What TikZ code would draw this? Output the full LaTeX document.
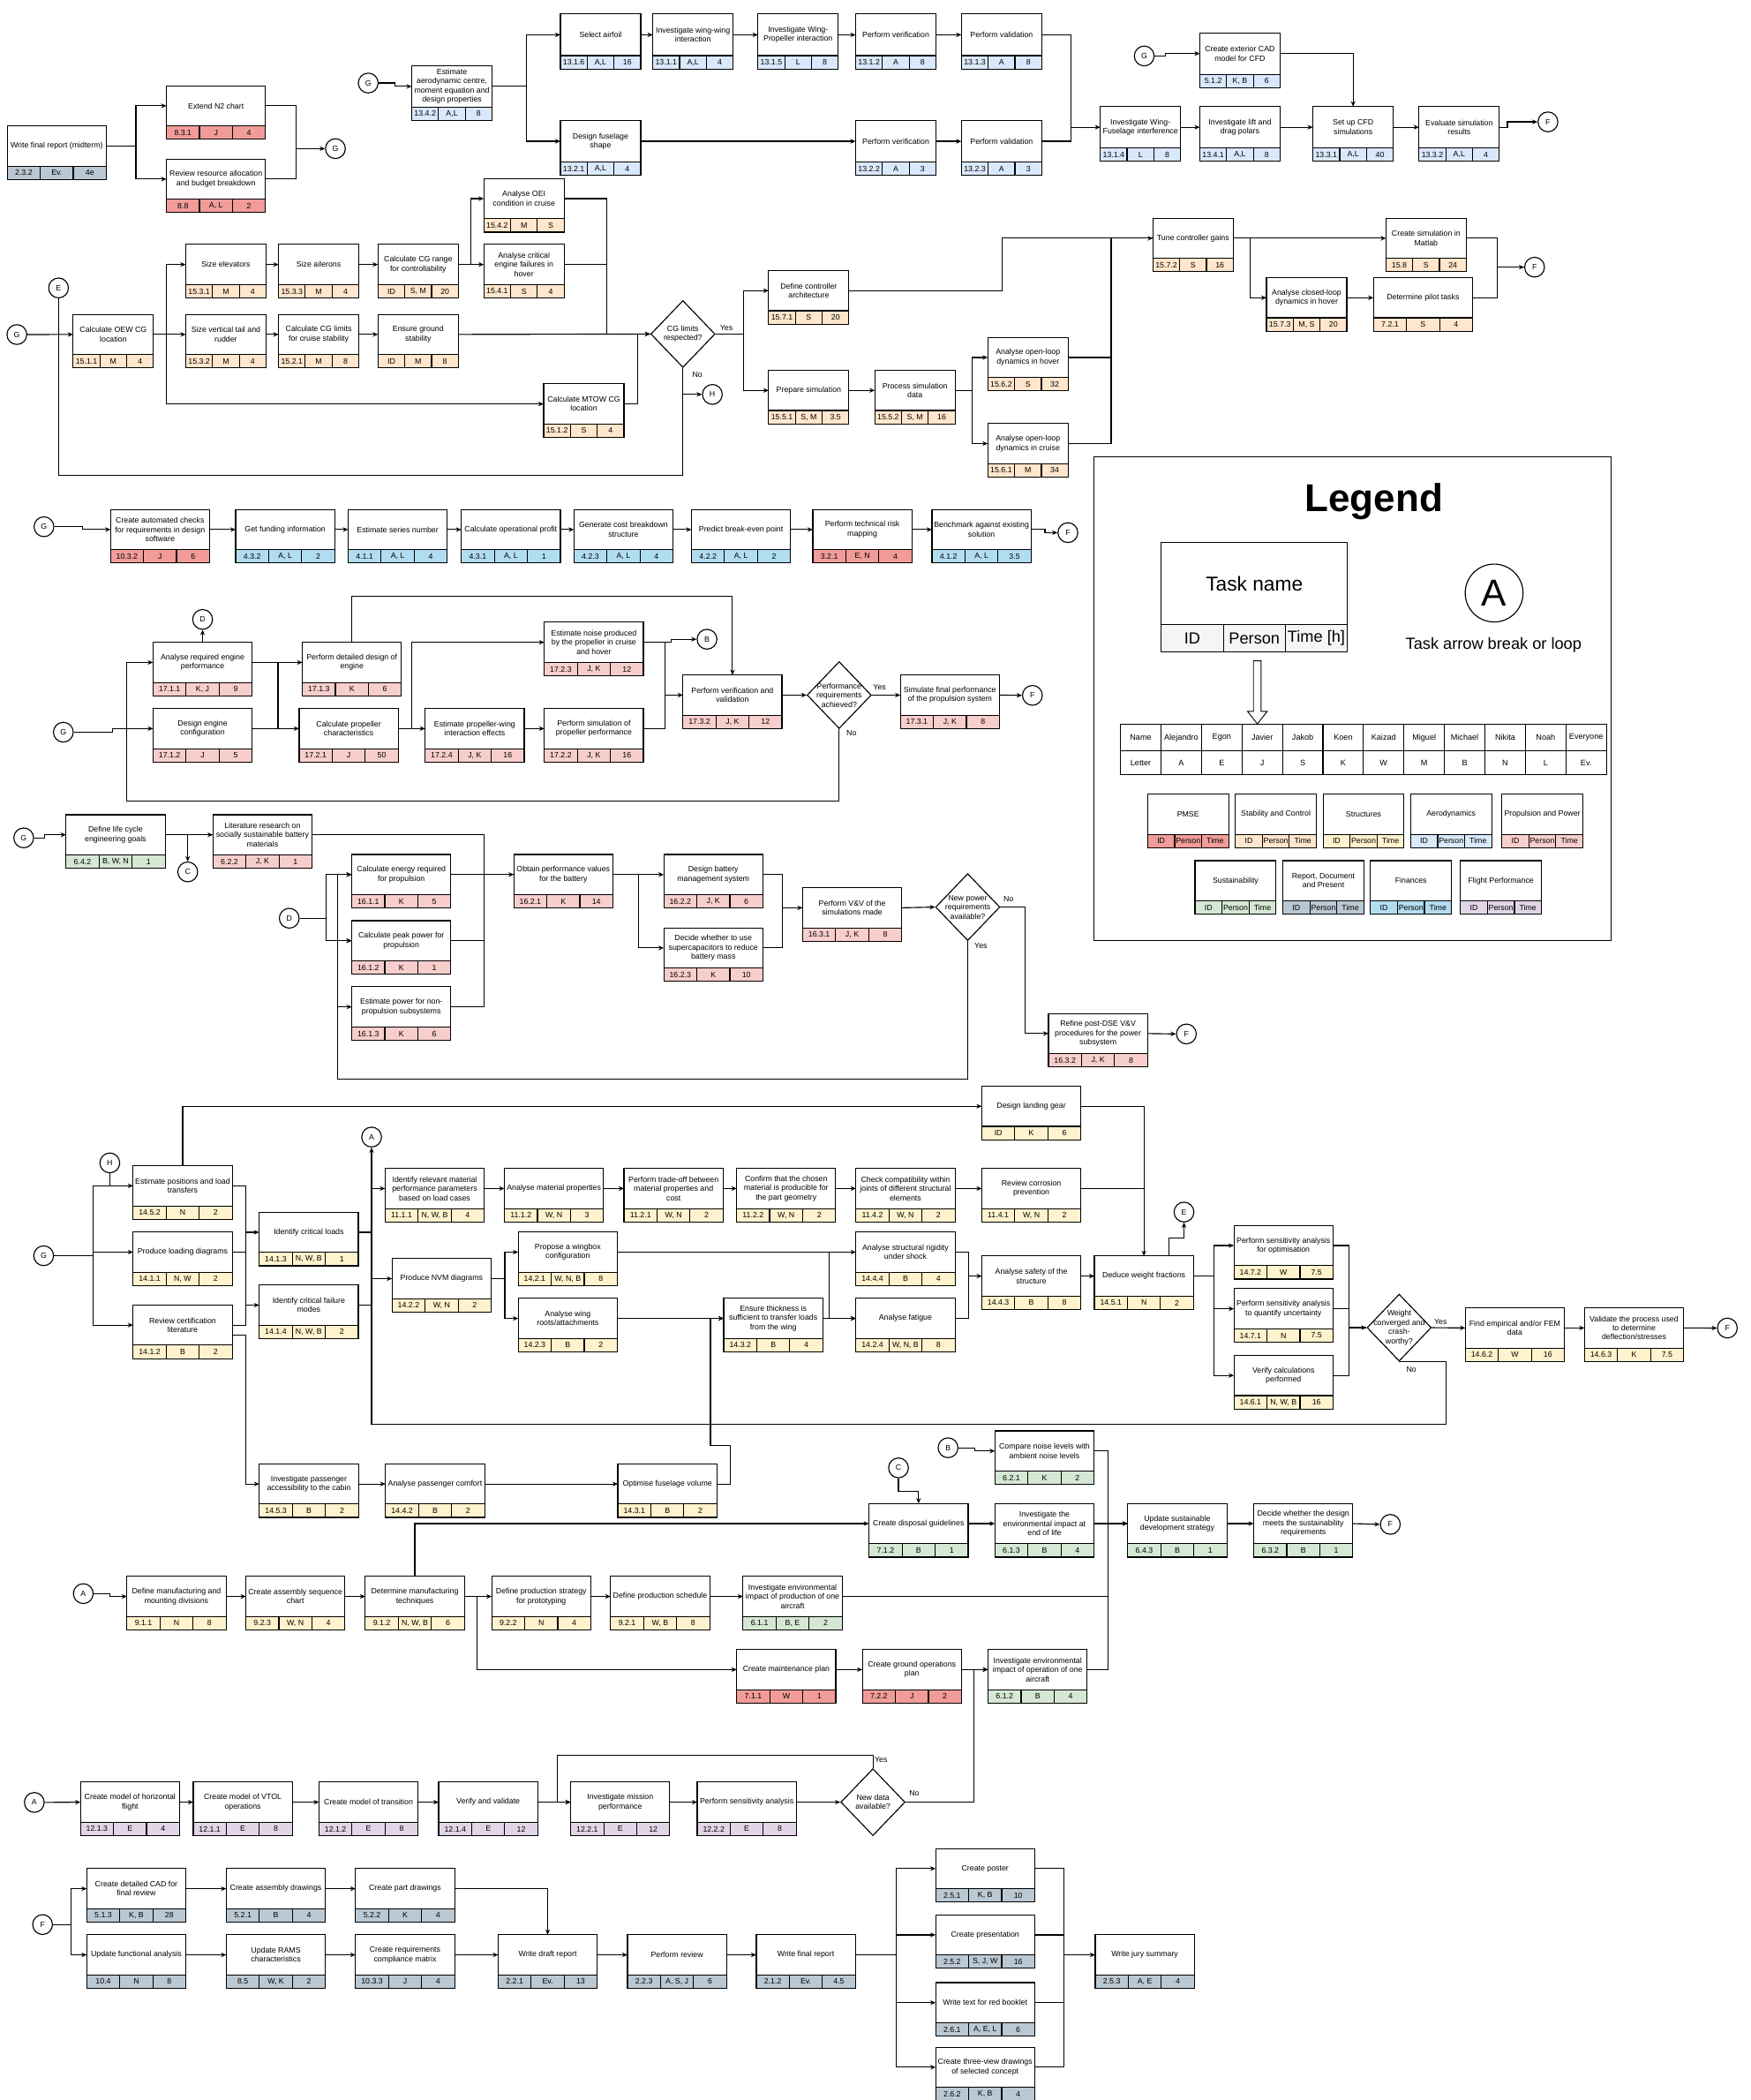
\documentclass[tikz,border=0pt]{standalone}
\usepackage{fontspec}
\setmainfont{Liberation Sans}
\usetikzlibrary{arrows.meta,shapes.geometric,calc}
\definecolor{pmse}{HTML}{F19C99}
\definecolor{sc}{HTML}{FFE6CC}
\definecolor{str}{HTML}{FFF2CC}
\definecolor{aero}{HTML}{DAE8FC}
\definecolor{prop}{HTML}{F8CECC}
\definecolor{sust}{HTML}{D5E8D4}
\definecolor{rep}{HTML}{BAC8D3}
\definecolor{fin}{HTML}{B1DDF0}
\definecolor{flight}{HTML}{E1D5E7}
\definecolor{lgray}{HTML}{F5F5F5}
\newcommand{\taskfont}{\fontsize{5.8}{6.9}\selectfont}
\newcommand{\taskw}{74}
\newcommand{\taskh}{30}
\newcommand{\mktask}[7]{%
	\node[taskbox,minimum width=\taskw pt,minimum height=\taskh pt] (#1) at (#2) {#3};
	\node[cell,fill=#7,minimum width=\taskw pt/3,anchor=north west] (#1-id) at (#1.south west) {#4};
	\node[cell,fill=#7,minimum width=\taskw pt/3,anchor=west] (#1-pe) at (#1-id.east) {#5};
	\node[cell,fill=#7,minimum width=\taskw pt/3,anchor=west] (#1-ti) at (#1-pe.east) {#6};}
\tikzset{
	taskbox/.style={draw,fill=white,rectangle,inner sep=0.5pt,outer sep=0pt,align=center,font=\taskfont},
	cell/.style={draw,rectangle,minimum height=10pt,inner sep=0pt,outer sep=0pt,font=\taskfont},
	conn/.style={draw,circle,fill=white,minimum size=14.8pt,inner sep=0pt,font=\taskfont},
	decision/.style={draw,diamond,fill=white,minimum width=48pt,minimum height=50pt,inner sep=0pt},
	dtext/.style={font=\taskfont,align=center,inner sep=0pt},
	lbl/.style={font=\taskfont,inner sep=0pt},
	arr/.style={-{Stealth[length=4pt,width=3.4pt]}},
	tab/.style={draw,rectangle,minimum width=30.24pt,inner sep=0pt,outer sep=0pt,font=\fontsize{6}{7}\selectfont}
}
\begin{document}
\begin{tikzpicture}[x=1pt,y=1pt,yscale=-1,line width=0.75pt]
	\useasboundingbox (0,0) rectangle (1307,1568);

	\mktask{wfr}{42.4,109}{Write final report (midterm)}{2.3.2}{Ev.}{4e}{rep}
	\mktask{ntwo}{161.3,79}{Extend N2 chart}{8.3.1}{J}{4}{pmse}
	\mktask{rra}{161.3,133.7}{Review resource allocation\\and budget breakdown}{8.8}{A, L}{2}{pmse}
	\node[conn] (g1) at (250.5,111) {G};
	\draw[arr] (wfr.east) -- ++(22.1,0) |- (ntwo.west);
	\draw[arr] (wfr.east) -- ++(22.1,0) |- (rra.west);
	\draw (ntwo.east) -- ++(22.7,0) coordinate (jr1) |- (rra.east);
	\draw[arr] (jr1 |- g1.west) -- (g1.west);

	\def\taskw{60}\def\taskh{31}
	\node[conn] (g2) at (275,62) {G};
	\mktask{eac}{337.5,64.5}{Estimate\\aerodynamic centre,\\moment equation and\\design properties}{13.4.2}{A,L}{8}{aero}
	\mktask{sa}{448.5,26}{Select airfoil}{13.1.6}{A,L}{16}{aero}
	\mktask{ww}{517.5,26}{Investigate wing-wing\\interaction}{13.1.1}{A,L}{4}{aero}
	\mktask{wp}{596,26}{Investigate Wing-\\Propeller interaction}{13.1.5}{L}{8}{aero}
	\mktask{pvo}{669,26}{Perform verification}{13.1.2}{A}{8}{aero}
	\mktask{plo}{748,26}{Perform validation}{13.1.3}{A}{8}{aero}
	\mktask{dfs}{448.5,105.5}{Design fuselage\\shape}{13.2.1}{A,L}{4}{aero}
	\mktask{pvt}{669,105.5}{Perform verification}{13.2.2}{A}{3}{aero}
	\mktask{plt}{748,105.5}{Perform validation}{13.2.3}{A}{3}{aero}
	\mktask{wfi}{851.7,95}{Investigate Wing-\\Fuselage interference}{13.1.4}{L}{8}{aero}
	\mktask{ldp}{926,95}{Investigate lift and\\drag polars}{13.4.1}{A,L}{8}{aero}
	\mktask{cfd}{1010.5,95}{Set up CFD\\simulations}{13.3.1}{A,L}{40}{aero}
	\mktask{esr}{1089.7,95}{Evaluate simulation\\results}{13.3.2}{A,L}{4}{aero}
	\mktask{cad}{926,40}{Create exterior CAD\\model for CFD}{5.1.2}{K, B}{6}{aero}
	\node[conn] (g3) at (854.5,41.8) {G};
	\node[conn] (f1) at (1156,91) {F};
	\draw[arr] (g2.east) -- ++(12,0) |- (eac.west);
	\draw[arr] (eac.east) -- ++(25.5,0) |- (sa.west);
	\draw[arr] (eac.east) -- ++(25.5,0) |- (dfs.west);
	\draw[arr] (sa.east) -- (ww.west);
	\draw[arr] (ww.east) -- (wp.west);
	\draw[arr] (wp.east) -- (pvo.west);
	\draw[arr] (pvo.east) -- (plo.west);
	\draw[arr] (dfs.east) -- (pvt.west);
	\draw[arr] (pvt.east) -- (plt.west);
	\draw (plo.east) -- ++(21.6,0) coordinate (ja1) |- (plt.east);
	\draw[arr] (ja1 |- wfi.west) -- (wfi.west);
	\draw[arr] (wfi.east) -- (ldp.west);
	\draw[arr] (ldp.east) -- (cfd.west);
	\draw[arr] (cfd.east) -- (esr.west);
	\draw[arr] (g3.east) -- ++(8,0) |- (cad.west);
	\draw[arr] (cad.east) -| (cfd.north);
	\draw[arr] (esr.east) -- ++(6,0) |- (f1.west);

	\def\taskh{30}
	\node[conn] (e1) at (43.7,215) {E};
	\node[conn] (g4) at (12.6,249.8) {G};
	\mktask{oew}{84.6,249.7}{Calculate OEW CG\\location}{15.1.1}{M}{4}{sc}
	\mktask{se}{168.7,197.5}{Size elevators}{15.3.1}{M}{4}{sc}
	\mktask{sai}{238,197.5}{Size ailerons}{15.3.3}{M}{4}{sc}
	\mktask{cgr}{312.3,197.5}{Calculate CG range\\for controllability}{ID}{S, M}{20}{sc}
	\mktask{oei}{391.3,148.3}{Analyse OEI\\condition in cruise}{15.4.2}{M}{S}{sc}
	\mktask{cef}{391.3,197.5}{Analyse critical\\engine failures in\\hover}{15.4.1}{S}{4}{sc}
	\mktask{svt}{168.7,249.7}{Size vertical tail and\\rudder}{15.3.2}{M}{4}{sc}
	\mktask{cgl}{238,249.7}{Calculate CG limits\\for cruise stability}{15.2.1}{M}{8}{sc}
	\mktask{gst}{312.3,249.7}{Ensure ground\\stability}{ID}{M}{8}{sc}
	\mktask{mtow}{436,301.6}{Calculate MTOW CG\\location}{15.1.2}{S}{4}{sc}
	\node[decision,label={[dtext]center:CG limits\\respected?}] (q15) at (510,249.4) {};
	\node[lbl] at (542.5,245) {Yes};
	\node[lbl] at (520.8,280) {No};
	\node[conn] (h1) at (532,294.5) {H};
	\mktask{dca}{604,217}{Define controller\\architecture}{15.7.1}{S}{20}{sc}
	\mktask{psim}{604,291.5}{Prepare simulation}{15.5.1}{S, M}{3.5}{sc}
	\mktask{psd}{683.3,291.5}{Process simulation\\data}{15.5.2}{S, M}{16}{sc}
	\mktask{olh}{767.7,266.9}{Analyse open-loop\\dynamics in hover}{15.6.2}{S}{32}{sc}
	\mktask{olc}{767.7,331.2}{Analyse open-loop\\dynamics in cruise}{15.6.1}{M}{34}{sc}
	\mktask{tcg}{891,177.9}{Tune controller gains}{15.7.2}{S}{16}{sc}
	\mktask{csm}{1065,177.9}{Create simulation in\\Matlab}{15.8}{S}{24}{sc}
	\mktask{clh}{975.8,222.3}{Analyse closed-loop\\dynamics in hover}{15.7.3}{M, S}{20}{sc}
	\def\taskw{74}
	\mktask{dpt}{1062.7,222.3}{Determine pilot tasks}{7.2.1}{S}{4}{sc}
	\node[conn] (f2) at (1146,199.5) {F};
	\draw[arr] (g4.east) -- (oew.west);
	\draw (e1.south) -- ++(0,132.4) -| (q15.south);
	\draw[arr] (oew.east) -- ++(9.9,0) coordinate (j15a) |- (se.west);
	\draw[arr] (j15a) -- (svt.west);
	\draw[arr] (j15a) |- (mtow.west);
	\draw[arr] (se.east) -- (sai.west);
	\draw[arr] (sai.east) -- (cgr.west);
	\draw[arr] (cgr.east) -- ++(9.2,0) coordinate (j15b) |- (oei.west);
	\draw[arr] (j15b) -- (cef.west);
	\draw[arr] (oei.east) -- ++(32.1,0) |- (q15.west);
	\draw (cef.east) -- ++(32.1,0);
	\draw[arr] (svt.east) -- (cgl.west);
	\draw[arr] (cgl.east) -- (gst.west);
	\draw[arr] (gst.east) -- (q15.west);
	\draw (mtow.east) -- ++(10,0) |- (q15.west);
	\draw[arr] (q15.east) -- ++(21,0) coordinate (j15d) |- (dca.west);
	\draw[arr] (j15d) |- (psim.west);
	\draw[arr] (q15.south) |- (h1.west);
	\draw[arr] (dca.east) -- ++(114.3,0) |- (tcg.west);
	\draw[arr] (psim.east) -- (psd.west);
	\draw[arr] (psd.east) -- ++(12.5,0) coordinate (j15e) |- (olh.west);
	\draw[arr] (j15e) |- (olc.west);
	\draw (olh.east) -- ++(32.1,0) |- (tcg.west);
	\draw (olc.east) -- ++(32.1,0) |- (tcg.west);
	\draw[arr] (tcg.east) -- (csm.west);
	\draw[arr] (tcg.east) -- ++(12.8,0) |- (clh.west);
	\draw[arr] (clh.east) -- (dpt.west);
	\draw[arr] (csm.east) -- ++(23,0) |- (f2.west);
	\draw (dpt.east) -- ++(18.3,0) |- (f2.west);

	\node[conn] (g5) at (32.8,393.3) {G};
	\mktask{cac}{119.5,395.4}{Create automated checks\\for requirements in design\\software}{10.3.2}{J}{6}{pmse}
	\mktask{gfi}{213,395.4}{Get funding information}{4.3.2}{A, L}{2}{fin}
	\mktask{esn}{297,395.4}{Estimate series number}{4.1.1}{A, L}{4}{fin}
	\mktask{cop}{381.5,395.4}{Calculate operational profit}{4.3.1}{A, L}{1}{fin}
	\mktask{gcb}{465.6,395.4}{Generate cost breakdown\\structure}{4.2.3}{A, L}{4}{fin}
	\mktask{pbe}{553.4,395.4}{Predict break-even point}{4.2.2}{A, L}{2}{fin}
	\mktask{trm}{644,395.4}{Perform technical risk\\mapping}{3.2.1}{E, N}{4}{pmse}
	\mktask{bae}{733,395.4}{Benchmark against existing\\solution}{4.1.2}{A, L}{3.5}{fin}
	\node[conn] (f3) at (797.5,397.7) {F};
	\draw[arr] (g5.east) -- ++(21,0) |- (cac.west);
	\draw[arr] (cac.east) -- (gfi.west);
	\draw[arr] (gfi.east) -- (esn.west);
	\draw[arr] (esn.east) -- (cop.west);
	\draw[arr] (cop.east) -- (gcb.west);
	\draw[arr] (gcb.east) -- (pbe.west);
	\draw[arr] (pbe.east) -- (trm.west);
	\draw[arr] (trm.east) -- (bae.west);
	\draw[arr] (bae.east) -- ++(10.4,0) |- (f3.west);

	\node[conn] (d1) at (151.3,462.5) {D};
	\node[conn] (g6) at (47.3,546.7) {G};
	\mktask{are}{151.3,494.6}{Analyse required engine\\performance}{17.1.1}{K, J}{9}{prop}
	\mktask{dec}{151.3,544}{Design engine\\configuration}{17.1.2}{J}{5}{prop}
	\mktask{pdd}{262.8,494.6}{Perform detailed design of\\engine}{17.1.3}{K}{6}{prop}
	\mktask{cpc}{260.4,544}{Calculate propeller\\characteristics}{17.2.1}{J}{50}{prop}
	\mktask{epw}{354.5,544}{Estimate propeller-wing\\interaction effects}{17.2.4}{J, K}{16}{prop}
	\mktask{psp}{443.5,544}{Perform simulation of\\propeller performance}{17.2.2}{J, K}{16}{prop}
	\mktask{enp}{443.5,479.6}{Estimate noise produced\\by the propeller in cruise\\and hover}{17.2.3}{J, K}{12}{prop}
	\node[conn] (b1) at (528,477.3) {B};
	\mktask{pvv}{547,519}{Perform verification and\\validation}{17.3.2}{J, K}{12}{prop}
	\node[decision,label={[dtext]center:Performance\\requirements\\achieved?}] (q17) at (626.7,519) {};
	\node[lbl] at (656.9,513) {Yes};
	\node[lbl] at (635.9,547.2) {No};
	\mktask{sfp}{709.4,519}{Simulate final performance\\of the propulsion system}{17.3.1}{J, K}{8}{prop}
	\node[conn] (f4) at (771,519.2) {F};
	\coordinate (loop17) at (94.6,598.3);
	\draw[arr] (g6.east) -- ++(29,0) |- (dec.west);
	\draw[arr] (q17.south) |- (loop17) |- (are.west);
	\draw[arr] (are.north) -- (d1.south);
	\draw[arr] (are.east) -- ++(19.3,0) |- (cpc.west);
	\draw[arr] (dec.east) -- ++(19.3,0) |- (pdd.west);
	\draw[arr] (pdd.north) -- ++(0,-34.6) -| (pvv.north);
	\draw[arr] (cpc.east) -- ++(10,0) |- (enp.west);
	\draw[arr] (cpc.east) -- (epw.west);
	\draw[arr] (epw.east) -- (psp.west);
	\draw[arr] (enp.east) -- ++(16.1,0) |- (pvv.west);
	\draw (psp.east) -- ++(16.1,0) |- (pvv.west);
	\draw[arr] (enp.east) -- ++(21,0) |- (b1.west);
	\draw[arr] (pvv.east) -- (q17.west);
	\draw[arr] (q17.east) -- (sfp.west);
	\draw[arr] (sfp.east) -- (f4.west);

	\node[conn] (g7) at (17.7,625.6) {G};
	\mktask{dlc}{86.3,623.3}{Define life cycle\\engineering goals}{6.4.2}{B, W, N}{1}{sust}
	\mktask{lit}{196,623.3}{Literature research on\\socially sustainable battery\\materials}{6.2.2}{J, K}{1}{prop}
	\node[conn] (c1) at (140.2,651) {C};
	\node[conn] (d2) at (216,685.6) {D};
	\mktask{cer}{299.7,653}{Calculate energy required\\for propulsion}{16.1.1}{K}{5}{prop}
	\mktask{cpp}{299.7,702.4}{Calculate peak power for\\propulsion}{16.1.2}{K}{1}{prop}
	\mktask{epn}{299.7,751.8}{Estimate power for non-\\propulsion subsystems}{16.1.3}{K}{6}{prop}
	\mktask{opv}{420.7,653}{Obtain performance values\\for the battery}{16.2.1}{K}{14}{prop}
	\mktask{dbm}{532.7,653}{Design battery\\management system}{16.2.2}{J, K}{6}{prop}
	\mktask{dsr}{532.7,707.8}{Decide whether to use\\supercapacitors to reduce\\battery mass}{16.2.3}{K}{10}{prop}
	\mktask{vv}{636.4,677.8}{Perform V\&V of the\\simulations made}{16.3.1}{J, K}{8}{prop}
	\node[decision,label={[dtext]center:New power\\requirements\\available?}] (q16) at (722.7,677.3) {};
	\node[lbl] at (753.2,671.3) {No};
	\node[lbl] at (732.5,706) {Yes};
	\mktask{rpd}{820,771.7}{Refine post-DSE V\&V\\procedures for the power\\subsystem}{16.3.2}{J, K}{8}{prop}
	\node[conn] (f5) at (886,772) {F};
	\coordinate (loop16) at (252.2,806);
	\draw[arr] (g7.east) -- ++(7.6,0) |- (dlc.west);
	\draw[arr] (dlc.east) -- (lit.west);
	\draw[arr] (c1 |- dlc.east) -- (c1.north);
	\draw[arr] (lit.east) -- ++(128.7,0) |- (opv.west);
	\draw[arr] (d2.east) -- ++(19.7,0) |- (cer.west);
	\draw[arr] (d2.east) -- ++(19.7,0) |- (cpp.west);
	\draw[arr] (q16.south) |- (loop16) |- (epn.west);
	\draw[arr] (loop16) |- (cpp.west);
	\draw[arr] (loop16) |- (cer.west);
	\draw (cer.east) -- ++(25,0);
	\draw (cpp.east) -- ++(25,0);
	\draw (epn.east) -- ++(25,0) |- (opv.west);
	\draw[arr] (opv.east) -- (dbm.west);
	\draw[arr] (opv.east) -- ++(19,0) |- (dsr.west);
	\draw[arr] (dbm.east) -- ++(14.5,0) |- (vv.west);
	\draw (dsr.east) -- ++(14.5,0) |- (vv.west);
	\draw[arr] (vv.east) -- (q16.west);
	\draw[arr] (q16.east) -- ++(18.6,0) |- (rpd.west);
	\draw[arr] (rpd.east) -- (f5.west);

	\draw (817,341) rectangle (1203,702);
	\node[font=\bfseries\fontsize{29}{32}\selectfont] (lgtitle) at (1026,374.5) {Legend};
	\node[draw,minimum width=138.9pt,minimum height=61.3pt,outer sep=0pt,font=\fontsize{15}{18}\selectfont] (lgt) at (936.75,435.65) {Task name};
	\node[draw,fill=lgray,minimum width=46.3pt,minimum height=20.3pt,inner sep=0pt,outer sep=0pt,anchor=north west,font=\fontsize{12}{14}\selectfont] (lgt-id) at (lgt.south west) {ID};
	\node[draw,fill=lgray,minimum width=46.3pt,minimum height=20.3pt,inner sep=0pt,outer sep=0pt,anchor=west,font=\fontsize{12}{14}\selectfont] (lgt-pe) at (lgt-id.east) {Person};
	\node[draw,fill=lgray,minimum width=46.3pt,minimum height=20.3pt,inner sep=0pt,outer sep=0pt,anchor=west,font=\fontsize{12}{14}\selectfont] (lgt-ti) at (lgt-pe.east) {Time [h]};
	\node[draw,circle,minimum size=43.2pt,inner sep=0pt,font=\fontsize{28}{30}\selectfont] (lga) at (1115.8,442.8) {A};
	\node[font=\fontsize{12}{14}\selectfont] (lgatext) at (1115.4,481.6) {Task arrow break or loop};
	\draw[fill=white,line width=0.6pt] (936.1,493.4) -- (941.8,493.4) -- (941.8,531.1) -- (946.4,531.1) -- (939,540.5) -- (931.6,531.1) -- (936.1,531.1) -- cycle;
	\node[tab,minimum height=19.6pt] (nm0) at (851.9,550.8) {Name};
	\node[tab,minimum height=19.6pt] (nm1) at (882.1,550.8) {Alejandro};
	\node[tab,minimum height=19.6pt] (nm2) at (912.4,550.8) {Egon};
	\node[tab,minimum height=19.6pt] (nm3) at (942.6,550.8) {Javier};
	\node[tab,minimum height=19.6pt] (nm4) at (972.9,550.8) {Jakob};
	\node[tab,minimum height=19.6pt] (nm5) at (1003.1,550.8) {Koen};
	\node[tab,minimum height=19.6pt] (nm6) at (1033.3,550.8) {Kaizad};
	\node[tab,minimum height=19.6pt] (nm7) at (1063.6,550.8) {Miguel};
	\node[tab,minimum height=19.6pt] (nm8) at (1093.8,550.8) {Michael};
	\node[tab,minimum height=19.6pt] (nm9) at (1124.1,550.8) {Nikita};
	\node[tab,minimum height=19.6pt] (nm10) at (1154.3,550.8) {Noah};
	\node[tab,minimum height=19.6pt] (nm11) at (1184.5,550.8) {Everyone};
	\node[tab,minimum height=17.7pt] (lt0) at (851.9,569.45) {Letter};
	\node[tab,minimum height=17.7pt] (lt1) at (882.1,569.45) {A};
	\node[tab,minimum height=17.7pt] (lt2) at (912.4,569.45) {E};
	\node[tab,minimum height=17.7pt] (lt3) at (942.6,569.45) {J};
	\node[tab,minimum height=17.7pt] (lt4) at (972.9,569.45) {S};
	\node[tab,minimum height=17.7pt] (lt5) at (1003.1,569.45) {K};
	\node[tab,minimum height=17.7pt] (lt6) at (1033.3,569.45) {W};
	\node[tab,minimum height=17.7pt] (lt7) at (1063.6,569.45) {M};
	\node[tab,minimum height=17.7pt] (lt8) at (1093.8,569.45) {B};
	\node[tab,minimum height=17.7pt] (lt9) at (1124.1,569.45) {N};
	\node[tab,minimum height=17.7pt] (lt10) at (1154.3,569.45) {L};
	\node[tab,minimum height=17.7pt] (lt11) at (1184.5,569.45) {Ev.};
	\def\taskw{60.5}
	\mktask{lgpm}{887.3,608}{PMSE}{ID}{Person}{Time}{pmse}
	\mktask{lgsc}{952.8,608}{Stability and Control}{ID}{Person}{Time}{sc}
	\mktask{lgst}{1018.3,608}{Structures}{ID}{Person}{Time}{str}
	\mktask{lgae}{1083.7,608}{Aerodynamics}{ID}{Person}{Time}{aero}
	\mktask{lgpp}{1151.8,608}{Propulsion and Power}{ID}{Person}{Time}{prop}
	\mktask{lgsu}{922.7,657.6}{Sustainability}{ID}{Person}{Time}{sust}
	\mktask{lgrp}{988.3,657.6}{Report, Document\\and Present}{ID}{Person}{Time}{rep}
	\mktask{lgfi}{1053.7,657.6}{Finances}{ID}{Person}{Time}{fin}
	\mktask{lgfp}{1120.9,657.6}{Flight Performance}{ID}{Person}{Time}{flight}

	\def\taskw{74}
	\node[conn] (h2) at (82,868.3) {H};
	\node[conn] (g8) at (32.6,937.6) {G};
	\mktask{epl}{136.4,885.4}{Estimate positions and load\\transfers}{14.5.2}{N}{2}{str}
	\mktask{pld}{136.4,934.9}{Produce loading diagrams}{14.1.1}{N, W}{2}{str}
	\mktask{rcl}{136.4,989.4}{Review certification\\literature}{14.1.2}{B}{2}{str}
	\mktask{icl}{230.6,920.1}{Identify critical loads}{14.1.3}{N, W, B}{1}{str}
	\mktask{icf}{230.6,974.5}{Identify critical failure\\modes}{14.1.4}{N, W, B}{2}{str}
	\node[conn] (a1) at (277.5,849) {A};
	\mktask{irm}{324.6,887.4}{Identify relevant material\\performance parameters\\based on load cases}{11.1.1}{N, W, B}{4}{str}
	\mktask{amp}{413.7,887.4}{Analyse material properties}{11.1.2}{W, N}{3}{str}
	\mktask{tom}{503,887.4}{Perform trade-off between\\material properties and\\cost}{11.2.1}{W, N}{2}{str}
	\mktask{cpg}{587.1,887.4}{Confirm that the chosen\\material is producible for\\the part geometry}{11.2.2}{W, N}{2}{str}
	\mktask{ccj}{676.2,887.4}{Check compatibility within\\joints of different structural\\elements}{11.4.2}{W, N}{2}{str}
	\mktask{rcp}{770.2,887.4}{Review corrosion\\prevention}{11.4.1}{W, N}{2}{str}
	\mktask{dlg}{770.2,826}{Design landing gear}{ID}{K}{6}{str}
	\mktask{nvm}{329.8,954.7}{Produce NVM diagrams}{14.2.2}{W, N}{2}{str}
	\mktask{pwb}{424,934.9}{Propose a wingbox\\configuration}{14.2.1}{W, N, B}{8}{str}
	\mktask{awr}{424,984.4}{Analyse wing\\roots/attachments}{14.2.3}{B}{2}{str}
	\mktask{etk}{577.5,984.4}{Ensure thickness is\\sufficient to transfer loads\\from the wing}{14.3.2}{B}{4}{str}
	\mktask{asr}{676.2,934.9}{Analyse structural rigidity\\under shock}{14.4.4}{B}{4}{str}
	\mktask{afa}{676.2,984.4}{Analyse fatigue}{14.2.4}{W, N, B}{8}{str}
	\mktask{asf}{770.2,952.8}{Analyse safety of the\\structure}{14.4.3}{B}{8}{str}
	\mktask{dwf}{854.3,952.8}{Deduce weight fractions}{14.5.1}{N}{2}{str}
	\node[conn] (e2) at (884.2,905) {E};
	\mktask{sao}{958.5,930}{Perform sensitivity analysis\\for optimisation}{14.7.2}{W}{7.5}{str}
	\mktask{squ}{958.5,977.2}{Perform sensitivity analysis\\to quantify uncertainty}{14.7.1}{N}{7.5}{str}
	\mktask{vcp}{958.5,1027}{Verify calculations\\performed}{14.6.1}{N, W, B}{16}{str}
	\node[decision,label={[dtext]center:Weight\\converged and\\crash-\\worthy?}] (q14) at (1044.9,991.3) {};
	\node[lbl] at (1075.8,987.3) {Yes};
	\node[lbl] at (1054,1022.4) {No};
	\mktask{fem}{1131.3,991.5}{Find empirical and/or FEM\\data}{14.6.2}{W}{16}{str}
	\mktask{vpr}{1220.3,991.5}{Validate the process used\\to determine\\deflection/stresses}{14.6.3}{K}{7.5}{str}
	\node[conn] (f6) at (1290,991.6) {F};
	\mktask{ipa}{230.7,1108}{Investigate passenger\\accessibility to the cabin}{14.5.3}{B}{2}{str}
	\mktask{apc}{324.9,1108}{Analyse passenger comfort}{14.4.2}{B}{2}{str}
	\mktask{ofv}{498.4,1108}{Optimise fuselage volume}{14.3.1}{B}{2}{str}
	\coordinate (loop14) at (277.5,1063.5);
	\draw[arr] (g8.east) -- ++(29.3,0) coordinate (j14a) |- (epl.west);
	\draw[arr] (j14a) |- (pld.west);
	\draw[arr] (j14a) |- (rcl.west);
	\draw (h2.south) |- (epl.west);
	\draw[arr] (epl.north) |- (dlg.west);
	\draw[arr] (epl.east) -- ++(10.3,0) |- (icl.west);
	\draw (pld.east) -- ++(10.3,0);
	\draw[arr] (rcl.east) -- ++(10.3,0) |- (icf.west);
	\draw (epl.east) -- ++(10.3,0) |- (rcl.east);
	\draw[arr] ($(rcl.east)+(0,7.5)$) -- ++(10.3,0) |- (ipa.west);
	\draw[arr] (icl.east) -- ++(9.9,0) coordinate (j14b) -- (a1.south);
	\draw[arr] (j14b) |- (irm.west);
	\draw[arr] (icf.east) -- ++(9.9,0) |- (nvm.west);
	\draw[arr] (irm.east) -- (amp.west);
	\draw[arr] (amp.east) -- (tom.west);
	\draw[arr] (tom.east) -- (cpg.west);
	\draw[arr] (cpg.east) -- (ccj.west);
	\draw[arr] (ccj.east) -- (rcp.west);
	\draw[arr] (dlg.east) -| (dwf.north);
	\draw (rcp.east) -| (dwf.north);
	\draw[arr] (nvm.east) -- ++(10.2,0) |- (pwb.west);
	\draw[arr] (nvm.east) -- ++(10.2,0) |- (awr.west);
	\draw[arr] (pwb.east) -- (asr.west);
	\draw[arr] (pwb.east) -- ++(158.3,0) |- (afa.west);
	\draw[arr] (awr.east) -- (etk.west);
	\draw[arr] (ofv.east) -- ++(9.9,0) -- ++(0,-29) -- ++(-14.7,0) |- (etk.west);
	\draw[arr] (etk.east) -- (afa.west);
	\draw[arr] (asr.east) -- ++(10.3,0) |- (asf.west);
	\draw (afa.east) -- ++(10.3,0) |- (asf.west);
	\draw[arr] (asf.east) -- (dwf.west);
	\draw[arr] ($(dwf.north)+(18.7,0)$) -- ++(0,-13.2) -| (e2.south);
	\draw[arr] (dwf.east) -- ++(15,0) coordinate (j14c) |- (sao.west);
	\draw[arr] (j14c) |- (squ.west);
	\draw[arr] (j14c) |- (vcp.west);
	\draw[arr] (sao.east) -- ++(12,0) |- (q14.west);
	\draw (squ.east) -- ++(12,0) |- (q14.west);
	\draw (vcp.east) -- ++(12,0) |- (q14.west);
	\draw[arr] (q14.east) -- (fem.west);
	\draw[arr] (fem.east) -- (vpr.west);
	\draw[arr] (vpr.east) -- (f6.west);
	\draw (q14.south) -- ++(35.1,0) |- (loop14) -- (j14b);
	\draw[arr] (ipa.east) -- (apc.west);
	\draw[arr] (apc.east) -- (ofv.west);

	\node[conn] (b2) at (708,1081) {B};
	\mktask{cnl}{780,1083.4}{Compare noise levels with\\ambient noise levels}{6.2.1}{K}{2}{sust}
	\node[conn] (c2) at (671,1096) {C};
	\mktask{cdg}{686,1137.6}{Create disposal guidelines}{7.1.2}{B}{1}{sust}
	\mktask{iee}{780,1137.6}{Investigate the\\environmental impact at\\end of life}{6.1.3}{B}{4}{sust}
	\mktask{usd}{879.2,1137.6}{Update sustainable\\development strategy}{6.4.3}{B}{1}{sust}
	\mktask{dwm}{973.3,1137.6}{Decide whether the design\\meets the sustainability\\requirements}{6.3.2}{B}{1}{sust}
	\node[conn] (f7) at (1038.3,1138.2) {F};
	\node[conn] (a2) at (62.2,1189.9) {A};
	\mktask{dmd}{131.8,1192}{Define manufacturing and\\mounting divisions}{9.1.1}{N}{8}{str}
	\mktask{cas}{220.6,1192}{Create assembly sequence\\chart}{9.2.3}{W, N}{4}{str}
	\mktask{dmt}{309.8,1192}{Determine manufacturing\\techniques}{9.1.2}{N, W, B}{6}{str}
	\mktask{dps}{404.2,1192}{Define production strategy\\for prototyping}{9.2.2}{N}{4}{str}
	\mktask{dsc}{493,1192}{Define production schedule}{9.2.1}{W, B}{8}{str}
	\mktask{iep}{591.9,1192}{Investigate environmental\\impact of production of one\\aircraft}{6.1.1}{B, E}{2}{sust}
	\mktask{cmp}{587.2,1246.6}{Create maintenance plan}{7.1.1}{W}{1}{pmse}
	\mktask{cgo}{681,1246.6}{Create ground operations\\plan}{7.2.2}{J}{2}{pmse}
	\mktask{ieo}{774.9,1246.6}{Investigate environmental\\impact of operation of one\\aircraft}{6.1.2}{B}{4}{sust}
	\draw[arr] (b2.east) -- ++(12,0) |- (cnl.west);
	\draw[arr] (c2.south) -- ++(0,9.8) -| (cdg.north);
	\draw[arr] (cdg.east) -- (iee.west);
	\draw[arr] (iee.east) -- (usd.west);
	\draw[arr] (cnl.east) -- ++(10.3,0) |- (usd.west);
	\draw[arr] (usd.east) -- (dwm.west);
	\draw[arr] (dwm.east) -- (f7.west);
	\draw[arr] (a2.east) -- ++(12,0) |- (dmd.west);
	\draw[arr] (dmd.east) -- (cas.west);
	\draw[arr] (cas.east) -- (dmt.west);
	\draw[arr] (dmt.east) -- (dps.west);
	\draw[arr] (dps.east) -- (dsc.west);
	\draw[arr] (dsc.east) -- (iep.west);
	\draw[arr] (dmt.north) |- (cdg.west);
	\draw[arr] (dmt.east) -- ++(9.7,0) |- (cmp.west);
	\draw (iep.east) -- ++(198.4,0) |- (usd.west);
	\draw[arr] (cmp.east) -- (cgo.west);
	\draw[arr] (cgo.east) -- (ieo.west);
	\draw (ieo.east) -- ++(15.4,0) |- (usd.west);

	\node[conn] (a3) at (25.6,1345.8) {A};
	\mktask{cmh}{97.1,1345.6}{Create model of horizontal\\flight}{12.1.3}{E}{4}{flight}
	\mktask{cmv}{181.3,1345.6}{Create model of VTOL\\operations}{12.1.1}{E}{8}{flight}
	\mktask{cmt}{275.2,1345.6}{Create model of transition}{12.1.2}{E}{8}{flight}
	\mktask{vav}{364.6,1345.6}{Verify and validate}{12.1.4}{E}{12}{flight}
	\mktask{imp}{463.2,1345.6}{Investigate mission\\performance}{12.2.1}{E}{12}{flight}
	\mktask{psa}{557.7,1345.6}{Perform sensitivity analysis}{12.2.2}{E}{8}{flight}
	\node[decision,label={[dtext]center:New data\\available?}] (q12) at (651.9,1345.6) {};
	\node[lbl] at (658,1314) {Yes};
	\node[lbl] at (682.8,1338.8) {No};
	\draw[arr] (a3.east) -- (cmh.west);
	\draw[arr] (cmh.east) -- (cmv.west);
	\draw[arr] (cmv.east) -- (cmt.west);
	\draw[arr] (cmt.east) -- (vav.west);
	\draw[arr] (vav.east) -- (imp.west);
	\draw[arr] (imp.east) -- (psa.west);
	\draw[arr] (psa.east) -- (q12.west);
	\draw[arr] (q12.north) -- ++(0,-9.9) -| ($(imp.west)+(-10.1,0)$) -- (imp.west);
	\draw[arr] (q12.east) -- ++(51.1,0) |- (ieo.west);

	\node[conn] (f8) at (31.8,1437) {F};
	\mktask{cdc}{101.8,1410.2}{Create detailed CAD for\\final review}{5.1.3}{K, B}{28}{rep}
	\mktask{adr}{206,1410.2}{Create assembly drawings}{5.2.1}{B}{4}{rep}
	\mktask{pdr}{302.5,1410.2}{Create part drawings}{5.2.2}{K}{4}{rep}
	\mktask{ufa}{101.8,1459.6}{Update functional analysis}{10.4}{N}{8}{rep}
	\mktask{urc}{206,1459.6}{Update RAMS\\characteristics}{8.5}{W, K}{2}{rep}
	\mktask{rcm}{302.5,1459.6}{Create requirements\\compliance matrix}{10.3.3}{J}{4}{rep}
	\mktask{wdr}{409,1459.6}{Write draft report}{2.2.1}{Ev.}{13}{rep}
	\mktask{prv}{505.6,1459.6}{Perform review}{2.2.3}{A, S, J}{6}{rep}
	\mktask{wfn}{601.8,1459.6}{Write final report}{2.1.2}{Ev.}{4.5}{rep}
	\mktask{cpo}{735.7,1395.2}{Create poster}{2.5.1}{K, B}{10}{rep}
	\mktask{cpr}{735.7,1444.7}{Create presentation}{2.5.2}{S, J, W}{16}{rep}
	\mktask{wtb}{735.7,1495.3}{Write text for red booklet}{2.6.1}{A, E, L}{6}{rep}
	\mktask{ctv}{735.7,1543.5}{Create three-view drawings\\of selected concept}{2.6.2}{K, B}{4}{rep}
	\mktask{wjs}{854.9,1459.6}{Write jury summary}{2.5.3}{A, E}{4}{rep}
	\draw[arr] (f8.east) -- ++(13.7,0) |- (cdc.west);
	\draw[arr] (f8.east) -- ++(13.7,0) |- (ufa.west);
	\draw[arr] (cdc.east) -- (adr.west);
	\draw[arr] (adr.east) -- (pdr.west);
	\draw[arr] (pdr.east) -| (wdr.north);
	\draw[arr] (ufa.east) -- (urc.west);
	\draw[arr] (urc.east) -- (rcm.west);
	\draw[arr] (rcm.east) -- (wdr.west);
	\draw[arr] (wdr.east) -- (prv.west);
	\draw[arr] (prv.east) -- (wfn.west);
	\draw[arr] (wfn.east) -- ++(30.4,0) coordinate (jf1) |- (cpo.west);
	\draw[arr] (jf1) |- (cpr.west);
	\draw[arr] (jf1) |- (wtb.west);
	\draw[arr] (jf1) |- (ctv.west);
	\draw[arr] (cpo.east) -- ++(21.9,0) |- (wjs.west);
	\draw (cpr.east) -- ++(21.9,0) |- (wjs.west);
	\draw (wtb.east) -- ++(21.9,0) |- (wjs.west);
	\draw (ctv.east) -- ++(21.9,0) |- (wjs.west);
\end{tikzpicture}
\end{document}
